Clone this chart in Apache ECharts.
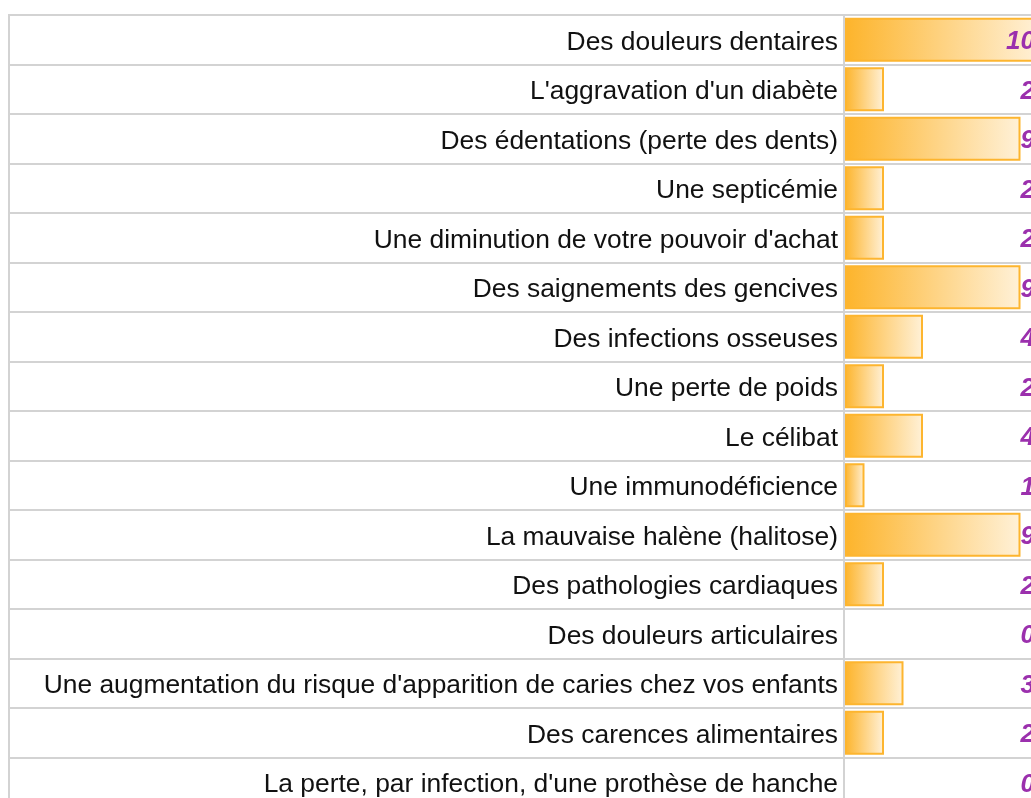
<!DOCTYPE html>
<html>
<head>
<meta charset="utf-8">
<script src="https://cdn.jsdelivr.net/npm/echarts@6/dist/echarts.min.js"></script>
<style>
  html, body { margin: 0; padding: 0; background: #ffffff; overflow: hidden; width: 1031px; height: 798px; }
  /* the table runs a little past the right and bottom edges of the window */
  #chart { width: 1048px; height: 812px; }
</style>
</head>
<body>
<div id="chart"></div>
<script>
// Conséquences d'une mauvaise santé bucco-dentaire : nombre de réponses
const categories = [
  "Des douleurs dentaires",
  "L'aggravation d'un diabète",
  "Des édentations (perte des dents)",
  "Une septicémie",
  "Une diminution de votre pouvoir d'achat",
  "Des saignements des gencives",
  "Des infections osseuses",
  "Une perte de poids",
  "Le célibat",
  "Une immunodéficience",
  "La mauvaise halène (halitose)",
  "Des pathologies cardiaques",
  "Des douleurs articulaires",
  "Une augmentation du risque d'apparition de caries chez vos enfants",
  "Des carences alimentaires",
  "La perte, par infection, d'une prothèse de hanche"
];
const counts = [10, 2, 9, 2, 2, 9, 4, 2, 4, 1, 9, 2, 0, 3, 2, 0];
const countMax = 10;

const lineColor = '#d3d3d3';
const fontFamily = '"Liberation Sans", Arial, Helvetica, sans-serif';

const chart = echarts.init(document.getElementById('chart'), null, { renderer: 'canvas' });

// empty rows get no outline
const barData = counts.map(function (v) {
  return v === 0 ? { value: v, itemStyle: { borderWidth: 0 } } : v;
});

const rowTop = 15;
const tableHeight = 792;

chart.setOption({
  animation: false,
  backgroundColor: '#ffffff',
  grid: [
    // label column (table frame)
    { left: 9, top: rowTop, width: 835, height: tableHeight, show: true, borderColor: lineColor, borderWidth: 2, containLabel: false },
    // bar column
    { left: 845, top: rowTop, width: 195, height: tableHeight, containLabel: false }
  ],
  xAxis: [
    { gridIndex: 0, type: 'value', show: false, min: 0, max: 1 },
    { gridIndex: 1, type: 'value', show: false, min: 0, max: countMax }
  ],
  yAxis: [
    {
      gridIndex: 0, type: 'category', data: categories, inverse: true,
      axisLine: { show: false }, axisTick: { show: false }, axisLabel: { show: false },
      splitLine: { show: true, interval: 0, lineStyle: { color: lineColor, width: 2 } }
    },
    {
      gridIndex: 1, type: 'category', data: categories, inverse: true, position: 'left',
      axisLine: { show: false }, axisTick: { show: false },
      axisLabel: {
        interval: 0, margin: 7, color: '#111111', fontSize: 26.4, fontFamily: fontFamily,
        formatter: function (v) { return '{t|' + v + '}'; },
        rich: { t: { color: '#111111', fontSize: 26.4, fontFamily: fontFamily, padding: [5, 0, 0, 0] } }
      },
      splitLine: { show: true, interval: 0, lineStyle: { color: lineColor, width: 2 } }
    },
    {
      gridIndex: 1, type: 'category', data: categories, inverse: true, position: 'right', z: 10,
      axisLine: { show: false }, axisTick: { show: false }, splitLine: { show: false },
      axisLabel: {
        interval: 0, margin: -5, align: 'right', hideOverlap: false,
        showMinLabel: true, showMaxLabel: true,
        formatter: function (v, i) { return '{n|' + counts[i] + '}'; },
        rich: {
          n: {
            color: '#9b30ad', fontSize: 26, fontWeight: 'bold', fontStyle: 'italic', fontFamily: fontFamily,
            padding: [5, 0, 0, 0]
          }
        }
      }
    }
  ],
  series: [
    {
      type: 'bar',
      xAxisIndex: 1,
      yAxisIndex: 1,
      data: barData,
      barWidth: 44,
      itemStyle: {
        borderColor: '#fdb52f',
        borderWidth: 2,
        color: new echarts.graphic.LinearGradient(0, 0, 1, 0, [
          { offset: 0, color: '#fdb42b' },
          { offset: 1, color: '#fff1d8' }
        ])
      }
    }
  ]
});
</script>
</body>
</html>
